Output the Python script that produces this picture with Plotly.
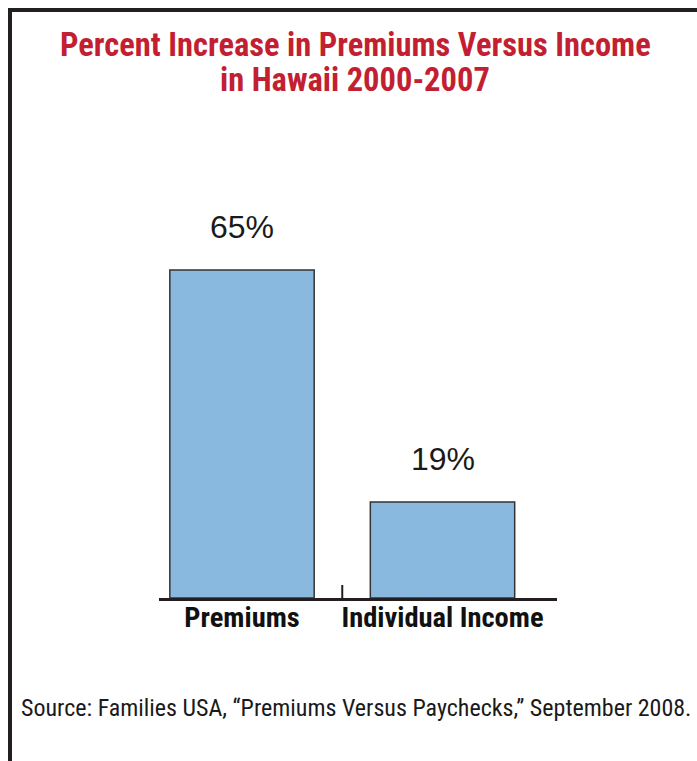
import plotly.graph_objects as go

categories = ["Premiums", "Individual Income"]
values = [65, 19]
value_labels = ["65%", "19%"]
title_lines = ["Percent Increase in Premiums Versus Income", "in Hawaii 2000-2007"]
source_text = "Source: Families USA, \u201cPremiums Versus Paychecks,\u201d September 2008."

W, H = 697, 761
L, R, T, B = 159, 140, 200, 163
pw, ph = W - L - R, H - T - B

def px_x(px):
    return (px - L) / pw

def px_y(py):
    return (H - B - py) / ph

COND = "Roboto Condensed, Liberation Sans, sans-serif"

fig = go.Figure()
fig.add_trace(go.Bar(
    x=categories, y=values, width=0.72,
    marker=dict(color="#89b9df", line=dict(color="#333333", width=1.5)),
    hoverinfo="skip",
))

for c, v, t in zip(categories, values, value_labels):
    fig.add_annotation(x=c, y=v, text=t, showarrow=False, yanchor="bottom", yshift=23,
                       font=dict(family="Liberation Sans", size=32, color="#1a1a1a"))

for i, line in enumerate(title_lines):
    fig.add_annotation(xref="paper", yref="paper", x=px_x(355), y=px_y(45 + 35 * i),
                       xanchor="center", yanchor="middle", text=line, showarrow=False, borderpad=0,
                       font=dict(family=COND, size=32.5, color="#c31f33", weight="bold"))

fig.add_annotation(xref="paper", yref="paper", x=px_x(19), y=px_y(708), xanchor="left", yanchor="middle",
                   text=source_text, showarrow=False,
                   font=dict(family=COND, size=24, color="#1a1a1a"))

# frame lines
fig.add_shape(type="line", xref="paper", yref="paper", x0=px_x(10), x1=px_x(700), y0=px_y(10), y1=px_y(10),
              line=dict(color="#231f20", width=4))
fig.add_shape(type="line", xref="paper", yref="paper", x0=px_x(10), x1=px_x(10), y0=px_y(8), y1=px_y(765),
              line=dict(color="#231f20", width=4))
# boundary tick
fig.add_shape(type="line", xref="x", yref="paper", x0=0.5, x1=0.5, y0=0, y1=13 / ph,
              line=dict(color="#231f20", width=2))

fig.update_layout(
    width=W, height=H,
    margin=dict(l=L, r=R, t=T, b=B),
    paper_bgcolor="white", plot_bgcolor="white",
    showlegend=False,
    xaxis=dict(range=[-0.414, 1.571], showline=True, linecolor="#231f20", linewidth=2.5,
               ticks="", showgrid=False, zeroline=False, fixedrange=True, ticklabelstandoff=-8,
               tickfont=dict(family=COND, size=28.5, color="#111111", weight="bold")),
    yaxis=dict(range=[0, 65 * ph / 328], visible=False, showgrid=False, zeroline=False, fixedrange=True),
)

fig.write_html("out.html", config={"displayModeBar": False},
               post_script="document.body.style.margin='0';document.body.style.padding='0';")
